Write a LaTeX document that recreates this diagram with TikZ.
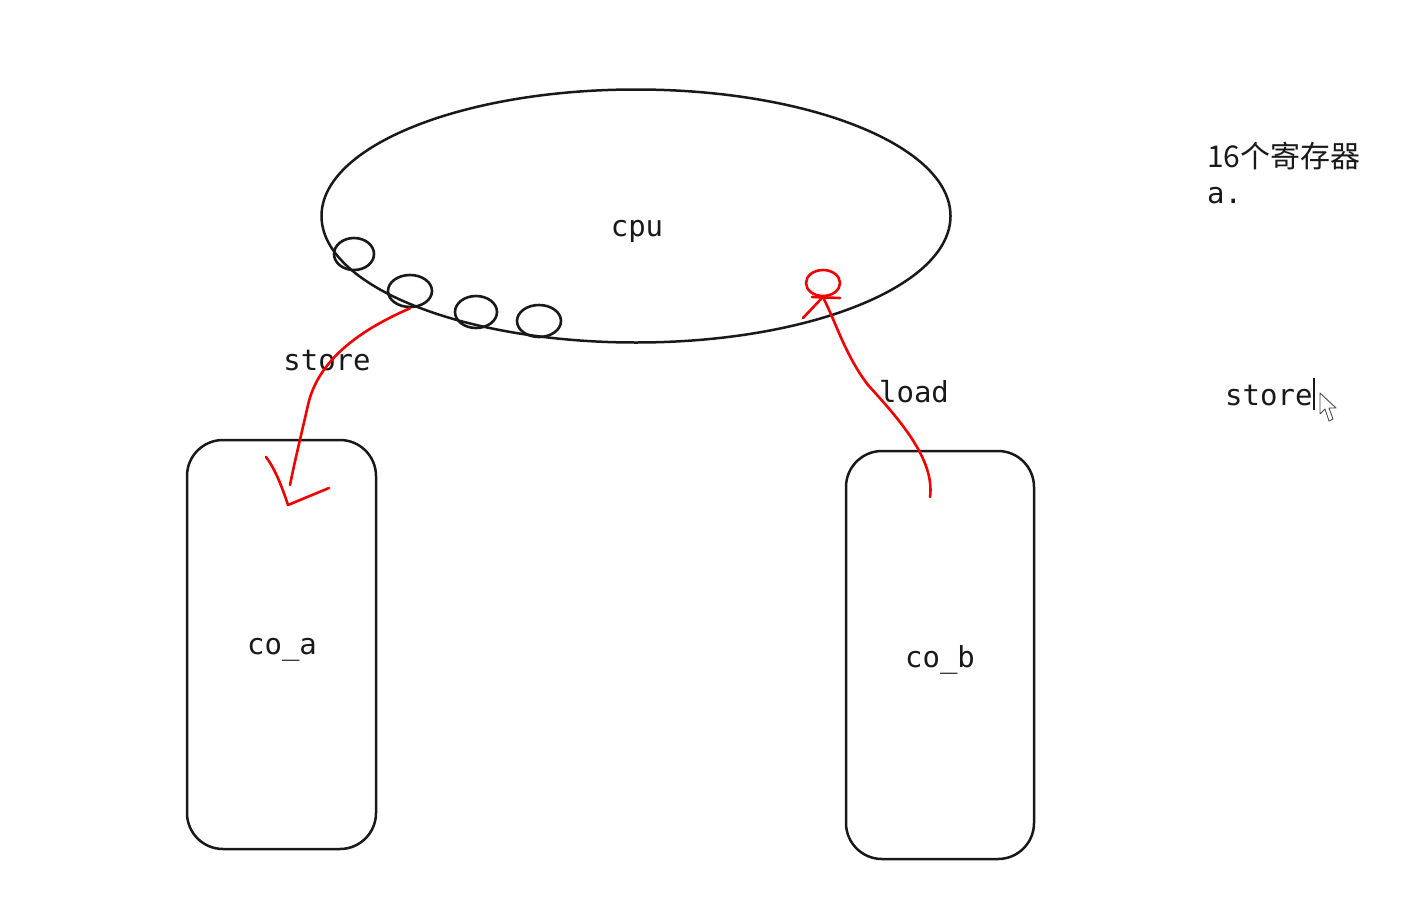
\documentclass[tikz,border=0pt]{standalone}
\usepackage{fontspec}
\setmonofont{DejaVu Sans Mono}
\newfontfamily\cjk{Noto Sans CJK SC}
\usetikzlibrary{shapes.geometric}
\begin{document}
\begin{tikzpicture}[x=1pt,y=-1pt,
  reg/.style={ellipse, draw=black!90, line width=2.6pt, inner sep=0pt},
  redink/.style={draw=red!95!black, line width=2.6pt, line cap=round, line join=round},
  lbl/.style={font=\ttfamily\fontsize{29}{34}\selectfont, text=black!90, inner sep=0pt},
  box/.style={draw=black!90, line width=2.5pt, rounded corners=36pt, inner sep=0pt}]
\useasboundingbox (0,0) rectangle (1404,907);
% CPU
\node[ellipse, draw=black!90, line width=2.5pt, minimum width=629pt, minimum height=253pt, inner sep=0pt] (cpu) at (636,216) {};
\node[lbl] (cpulbl) at (637,231) {cpu};
% registers
\node[reg, minimum width=40pt, minimum height=32pt] (r1) at (354,254) {};
\node[reg, minimum width=44pt, minimum height=32pt] (r2) at (410,291) {};
\node[reg, minimum width=42pt, minimum height=32pt] (r3) at (476,312) {};
\node[reg, minimum width=44pt, minimum height=32pt] (r4) at (539,321) {};
% boxes
\node[box, minimum width=189pt, minimum height=409pt] (coa) at (281.5,644.5) {};
\node[lbl] (coalbl) at (282,650) {co\_a};
\node[box, minimum width=188pt, minimum height=408pt] (cob) at (940,655) {};
\node[lbl] (coblbl) at (940,660) {co\_b};
% labels
\node[lbl] (storelbl) at (327,361) {store};
\node[lbl] (loadlbl) at (914,392) {load};
\node[font=\cjk\fontsize{30}{36}\selectfont, anchor=west, inner sep=0pt, text=black!90] (regs) at (1207,156) {16个寄存器};
\node[lbl, anchor=west] (adot) at (1207,196) {a.};
\node[lbl, anchor=west] (store2) at (1225,396) {store};
% text cursor and mouse pointer
\draw[line width=1.8pt, black!90] (1314,378) -- (1314,410);
\draw[line width=0.9pt, black!70, fill=white, line join=round] (1320,393) -- (1320,414) -- (1325,409) -- (1329,421) -- (1333,419) -- (1329,408) -- (1336,408) -- cycle;
% store arrow (red)
\coordinate (aend) at (290,485);
\draw[redink] (r2.south) .. controls (360,330) and (318,360) .. (308,405) .. controls (300,440) and (295,460) .. (aend);
\draw[redink] (266,457) .. controls (276,470) and (283,490) .. (288,505) -- (329,488);
% load (red)
\node[ellipse, draw=red!95!black, line width=2.6pt, minimum width=34pt, minimum height=26pt, inner sep=0pt] (rc) at (823,283) {};
\coordinate (bstart) at (930,497);
\draw[redink] (bstart) .. controls (935,460) and (900,420) .. (868,385) .. controls (845,355) and (835,320) .. (rc.south);
\draw[redink] (803,318) -- (821,299);
\draw[redink] (812,297) -- (840,298);
\end{tikzpicture}
\end{document}
